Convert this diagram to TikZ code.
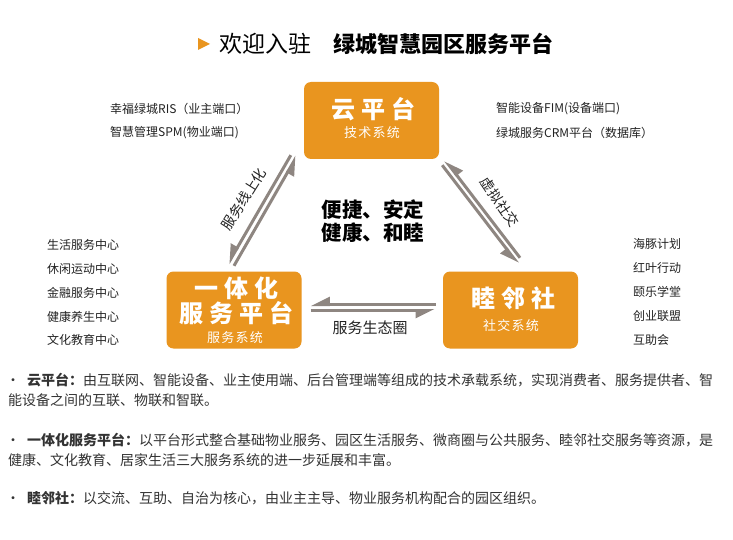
\documentclass[tikz,border=0pt]{standalone}
\usepackage{fontspec}
\setmainfont{Noto Sans CJK SC}
\usetikzlibrary{arrows.meta}
\definecolor{boxorange}{HTML}{E9951F}
\definecolor{arrowgray}{HTML}{8E8681}
\definecolor{sidetxt}{HTML}{222222}
\definecolor{bodytxt}{HTML}{333333}
\tikzset{
    platform/.style={fill=boxorange, rounded corners=7pt, minimum width=135pt, minimum height=77pt, inner sep=0pt},
    bigname/.style={text=white, inner sep=0pt, font=\bfseries\fontsize{24}{24}\selectfont\addfontfeatures{LetterSpace=25}},
    subname/.style={text=white, inner sep=0pt, font=\fontsize{13}{13}\selectfont\addfontfeatures{LetterSpace=10}},
    sidetext/.style={text=sidetxt, anchor=west, inner sep=0pt, font=\fontsize{12}{12}\selectfont},
    bodytext/.style={text=bodytxt, anchor=west, inner sep=0pt, font=\fontsize{14}{14}\selectfont},
    flowlabel/.style={text=sidetxt, inner sep=0pt, font=\fontsize{14}{14}\selectfont},
    harp/.style={draw=arrowgray, line width=3pt, -{Triangle[right, length=16pt, width=15pt]}}
}
\begin{document}
\begin{tikzpicture}[x=1pt, y=-1pt]
    \fill[white] (0,0) rectangle (733,540);
    \useasboundingbox (0,0) rectangle (733,540);

    \fill[boxorange] (198,38) -- (210,44) -- (198,50) -- cycle;
    \node[anchor=west, inner sep=0pt, font=\fontsize{23}{23}\selectfont] (welcome) at (219,44) {欢迎入驻};
    \node[anchor=west, inner sep=0pt, font=\bfseries\fontsize{22}{22}\selectfont] (title) at (333,44) {绿城智慧园区服务平台};

    \node[platform] (yun) at (371.5,120.5) {};
    \node[platform] (yiti) at (234,310) {};
    \node[platform] (mulin) at (510.5,310) {};

    \node[bigname] (yunname) at (373,109) {云平台};
    \node[subname] (yunsub) at (372,133) {技术系统};
    \node[bigname] (yitiname) at (236,288) {一体化};
    \node[bigname] (yitiname2) at (236,313) {服务平台};
    \node[subname] (yitisub) at (235,338) {服务系统};
    \node[bigname] (mulinname) at (513,298) {睦邻社};
    \node[subname] (mulinsub) at (511,326) {社交系统};

    \node[align=center, text=black, font=\bfseries\fontsize{20.5}{23}\selectfont] (motto) at (373,221) {便捷、安定\\健康、和睦};

    \draw[harp] ([shift={(-13,-4)}]yun.south west) -- ([shift={(-6,-7.5)}]yiti.north);
    \draw[harp] ([shift={(0,-5.5)}]yiti.north) -- ([shift={(-7,-3)}]yun.south west);
    \draw[harp] ([shift={(9.5,-13.5)}]mulin.north) -- ([shift={(6,1)}]yun.south east);
    \draw[harp] ([shift={(3,6)}]yun.south east) -- ([shift={(7.5,-7.5)}]mulin.north);
    \draw[harp] ([shift={(-7,-5.5)}]mulin.west) -- ([shift={(9,-5.5)}]yiti.east);
    \draw[harp] ([shift={(9,0.5)}]yiti.east) -- ([shift={(-8,0.5)}]mulin.west);

    \node[flowlabel, rotate=58] (online) at (244,199) {服务线上化};
    \node[flowlabel, rotate=-56] (virtual) at (500,202) {虚拟社交};
    \node[flowlabel, font=\fontsize{15}{15}\selectfont] (ecology) at (370,328) {服务生态圈};

    \node[sidetext] (ris) at (110,109) {幸福绿城RIS（业主端口）};
    \node[sidetext] (spm) at (110,133) {智慧管理SPM(物业端口)};
    \node[sidetext] (fim) at (496,109) {智能设备FIM(设备端口)};
    \node[sidetext] (crm) at (496,133) {绿城服务CRM平台（数据库）};

    \node[sidetext] (life) at (47,245) {生活服务中心};
    \node[sidetext] (sport) at (47,269) {休闲运动中心};
    \node[sidetext] (finance) at (47,293) {金融服务中心};
    \node[sidetext] (health) at (47,317) {健康养生中心};
    \node[sidetext] (culture) at (47,340) {文化教育中心};

    \node[sidetext] (dolphin) at (633,244) {海豚计划};
    \node[sidetext] (redleaf) at (633,268) {红叶行动};
    \node[sidetext] (school) at (633,292) {颐乐学堂};
    \node[sidetext] (startup) at (633,316) {创业联盟};
    \node[sidetext] (mutual) at (633,340) {互助会};

    \node[bodytext] (cloudA) at (6,380) {\makebox[21pt][l]{•}\textbf{云平台：}由互联网、智能设备、业主使用端、后台管理端等组成的技术承载系统，实现消费者、服务提供者、智};
    \node[bodytext] (cloudB) at (8,400) {能设备之间的互联、物联和智联。};
    \node[bodytext] (serviceA) at (6,440) {\makebox[21pt][l]{•}\textbf{一体化服务平台：}以平台形式整合基础物业服务、园区生活服务、微商圈与公共服务、睦邻社交服务等资源，是};
    \node[bodytext] (serviceB) at (8,460) {健康、文化教育、居家生活三大服务系统的进一步延展和丰富。};
    \node[bodytext] (socialA) at (6,498) {\makebox[21pt][l]{•}\textbf{睦邻社：}以交流、互助、自治为核心，由业主主导、物业服务机构配合的园区组织。};
\end{tikzpicture}
\end{document}
